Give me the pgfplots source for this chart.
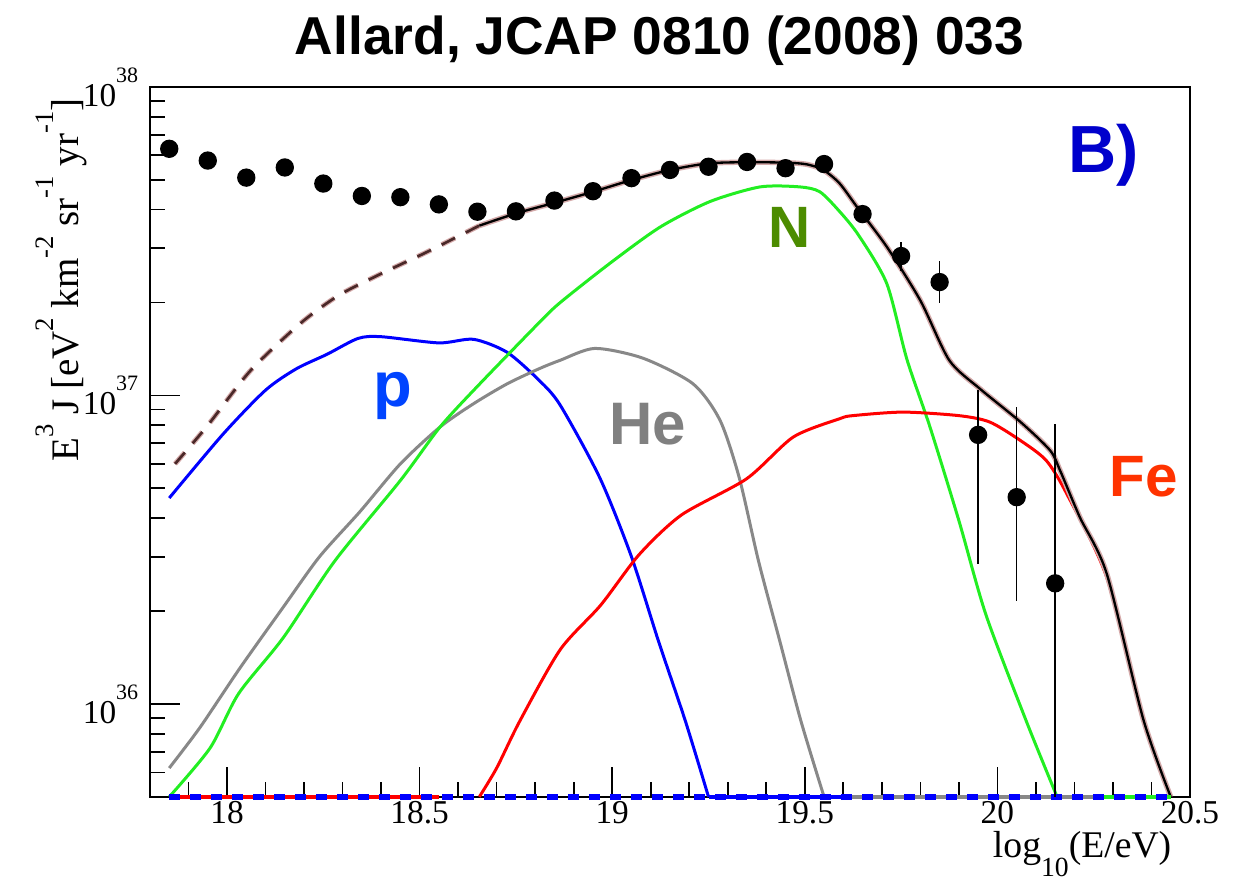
\documentclass[border=0pt]{standalone}
\usepackage{fontspec}
\setmainfont{Liberation Serif}
\newfontfamily\hb{Liberation Sans}
\usepackage{pgfplots}
\usepackage{pgfplotstable}
\pgfplotsset{compat=1.18}

\definecolor{pblue}{HTML}{0000FF}
\definecolor{ngreen}{HTML}{22EE22}
\definecolor{hegray}{HTML}{888888}
\definecolor{fered}{HTML}{FF0000}
\definecolor{halo}{HTML}{D4AAAA}
\definecolor{dashbrown}{HTML}{4A2828}
\definecolor{labB}{HTML}{0000CC}
\definecolor{labN}{HTML}{4C8C00}
\definecolor{labHe}{HTML}{808080}
\definecolor{labp}{HTML}{0044FF}
\definecolor{labFe}{HTML}{FF3300}

\newcommand{\tenp}[1]{10\raisebox{0.72em}{\fontsize{6.6}{7}\selectfont #1}}
\newcommand{\su}[1]{\raisebox{0.62em}{\fontsize{8}{8}\selectfont #1}}

% measured points with explicit errors
\pgfplotstableread{
x     y       ep      em
17.85 6.30e37 0       0
17.95 5.77e37 0       0
18.05 5.08e37 0       0
18.15 5.48e37 0       0
18.25 4.86e37 0       0
18.35 4.43e37 0       0
18.45 4.39e37 0       0
18.55 4.16e37 0       0
18.65 3.94e37 0       0
18.75 3.95e37 0       0
18.85 4.28e37 0       0
18.95 4.59e37 0       0
19.05 5.06e37 0       0
19.15 5.38e37 0       0
19.25 5.51e37 0       0
19.35 5.71e37 0       0
19.45 5.45e37 0       0
19.55 5.62e37 0       0
19.65 3.87e37 0.27e37 0.26e37
19.75 2.83e37 0.32e37 0.30e37
19.85 2.33e37 0.40e37 0.34e37
19.95 7.45e36 2.95e36 4.61e36
20.05 4.68e36 4.49e36 2.53e36
20.15 2.46e36 5.63e36 1.96e36
}\datapts

\pgfplotstableread{
x      y
17.865 6.0e36
17.95  8.0e36
18.06  1.2e37
18.19  1.71e37
18.29  2.11e37
18.40  2.48e37
18.52  2.92e37
18.655 3.55e37
}\totdash

\pgfplotstableread{
x      y
18.655 3.55e37
18.75  3.89e37
18.85  4.21e37
18.95  4.57e37
19.05  4.99e37
19.15  5.38e37
19.25  5.65e37
19.35  5.70e37
19.45  5.68e37
19.505 5.61e37
19.548 5.38e37
19.59  4.87e37
19.635 4.09e37
19.713 3.03e37
19.80  2.03e37
19.875 1.30e37
19.955 1.05e37
20.06  8.2e36
20.137 6.63e36
20.163 5.7e36
20.214 4.03e36
20.284 2.64e36
20.379 8.9e35
20.45  5.0e35
}\totsolid

\pgfplotstableread{
x      y
17.85  4.65e36
17.99  7.5e36
18.10  1.04e37
18.18  1.22e37
18.26  1.36e37
18.34  1.53e37
18.40  1.55e37
18.55  1.48e37
18.64  1.52e37
18.727 1.38e37
18.81  1.12e37
18.865 9.3e36
18.968 5.4e36
19.05  3.0e36
19.12  1.6e36
19.19  8.8e35
19.25  5.0e35
}\proton

\pgfplotstableread{
x      y
17.85  6.2e35
17.93  8.4e35
18.034 1.31e36
18.146 2.06e36
18.24  3.0e36
18.345 4.2e36
18.45  6.0e36
18.553 7.9e36
18.64  9.4e36
18.727 1.09e37
18.81  1.22e37
18.865 1.30e37
18.955 1.42e37
19.08  1.32e37
19.21  1.09e37
19.28  8.3e36
19.33  5.4e36
19.38  2.9e36
19.435 1.6e36
19.49  8.8e35
19.55  5.0e35
}\helium

\pgfplotstableread{
x      y
17.85  5.0e35
17.956 7.2e35
18.03  1.08e36
18.146 1.64e36
18.28  2.91e36
18.45  5.3e36
18.553 7.9e36
18.65  1.07e37
18.81  1.72e37
18.865 2.0e37
18.994 2.68e37
19.124 3.51e37
19.254 4.25e37
19.384 4.74e37
19.487 4.74e37
19.539 4.57e37
19.59  3.95e37
19.64  3.3e37
19.713 2.30e37
19.765 1.31e37
19.825 7.9e36
19.90  3.93e36
19.97  1.95e36
20.075 8.8e35
20.155 5.0e35
}\nitrogen

\pgfplotstableread{
x      y
18.655 5.0e35
18.70  6.2e35
18.76  8.8e35
18.865 1.5e36
18.97  2.09e36
19.07  3.05e36
19.18  4.1e36
19.349 5.37e36
19.47  7.33e36
19.59  8.4e36
19.625 8.6e36
19.755 8.83e36
19.90  8.6e36
19.98  8.2e36
20.06  7.14e36
20.127 6.15e36
20.18  4.8e36
20.284 2.57e36
20.379 8.9e35
20.45  5.0e35
}\iron

\begin{document}
\begin{tikzpicture}
\begin{axis}[
  name=ax,
  scale only axis,
  width=312pt, height=213pt,
  xmin=17.8, xmax=20.5,
  ymode=log, ymin=5e35, ymax=1e38,
  clip=false,
  axis line style={line width=0.5pt},
  tick align=inside,
  xtick pos=bottom, ytick pos=left,
  xtick={18,18.5,19,19.5,20,20.5},
  minor xtick={17.9,18.1,18.2,18.3,18.4,18.6,18.7,18.8,18.9,19.1,19.2,19.3,19.4,19.6,19.7,19.8,19.9,20.1,20.2,20.3,20.4},
  ytick={1e36,1e37,1e38},
  yticklabels={\tenp{36},\tenp{37},\tenp{38}},
  minor ytick={6e35,7e35,8e35,9e35,2e36,3e36,4e36,5e36,6e36,7e36,8e36,9e36,2e37,3e37,4e37,5e37,6e37,7e37,8e37,9e37},
  major tick length=9pt, minor tick length=4.5pt,
  tick style={line width=0.5pt, black},
  /pgf/number format/assume math mode=true,
  ticklabel style={font=\fontsize{10}{11}\selectfont},
  xticklabel style={yshift=2.3pt},
  every axis y label/.style={at={(rel axis cs:-0.0692,1)}, rotate=90, anchor=base east},
  every axis x label/.style={at={(rel axis cs:0.9933,-0.0859)}, anchor=base east},
  ylabel={\fontsize{11.7}{12}\selectfont E\su{3} J [eV\su{2} km\su{-2} sr\su{-1} yr\su{-1}]},
  xlabel={\fontsize{11.3}{12}\selectfont log\raisebox{-0.5em}{\fontsize{8.3}{9}\selectfont 10}(E/eV)},
  every axis plot/.append style={line join=round},
]
% components
\addplot[pblue, line width=0.9pt, smooth, tension=0.45] table[x=x,y=y] {\proton};
\addplot[hegray, line width=0.9pt, smooth, tension=0.45] table[x=x,y=y] {\helium};
\addplot[ngreen, line width=0.9pt, smooth, tension=0.45] table[x=x,y=y] {\nitrogen};
\addplot[fered, line width=0.9pt, smooth, tension=0.45] table[x=x,y=y] {\iron};
% total
\addplot[halo, line width=1.5pt, smooth, tension=0.45, dash pattern=on 4.5pt off 3.6pt] table[x=x,y=y] {\totdash};
\addplot[dashbrown, line width=0.8pt, smooth, tension=0.45, dash pattern=on 4.5pt off 3.6pt] table[x=x,y=y] {\totdash};
\addplot[halo, line width=1.6pt, smooth, tension=0.45] table[x=x,y=y] {\totsolid};
\addplot[black, line width=0.7pt, smooth, tension=0.45] table[x=x,y=y] {\totsolid};
% lines resting on the lower edge
\addplot[fered, line width=1.3pt] coordinates {(17.85,5e35) (18.55,5e35)};
\addplot[hegray, line width=1.3pt] coordinates {(19.55,5e35) (20.27,5e35)};
\addplot[pblue, line width=1.3pt] coordinates {(19.25,5e35) (19.6,5e35)};
\addplot[ngreen, line width=1.3pt] coordinates {(20.27,5e35) (20.45,5e35)};
\addplot[pblue, line width=1.6pt, dash pattern=on 3.3pt off 3pt] coordinates {(17.85,5e35) (20.45,5e35)};
% data
\addplot[black, only marks, mark=*, mark size=2.55pt,
  error bars/.cd, y dir=both, y explicit,
  error bar style={line width=0.5pt, black}, error mark=none]
  table[x=x, y=y, y error plus=ep, y error minus=em] {\datapts};
% labels
\node[anchor=base west, font=\hb\bfseries\fontsize{20}{20}\selectfont, text=labB, inner sep=0pt] at (rel axis cs:0.8827,0.8789) {B)};
\node[anchor=base west, font=\hb\bfseries\fontsize{17.5}{18}\selectfont, text=labN, inner sep=0pt] at (rel axis cs:0.5942,0.7732) {N};
\node[anchor=base west, font=\hb\bfseries\fontsize{18}{18}\selectfont, text=labHe, inner sep=0pt] at (rel axis cs:0.4413,0.4958) {He};
\node[anchor=base west, font=\hb\bfseries\fontsize{19}{19}\selectfont, text=labp, inner sep=0pt] at (rel axis cs:0.2144,0.5493) {p};
\node[anchor=base west, font=\hb\bfseries\fontsize{17.5}{18}\selectfont, text=labFe, inner sep=0pt] at (rel axis cs:0.9221,0.4225) {Fe};
\node[anchor=base, font=\hb\bfseries\fontsize{16}{16}\selectfont, inner sep=0pt] at (rel axis cs:0.490,1.045) {Allard, JCAP 0810 (2008) 033};
\end{axis}
\pgfresetboundingbox
\path ([shift={(-45pt,-26.1pt)}]ax.south west) rectangle ([shift={(15.6pt,26.1pt)}]ax.north east);
\end{tikzpicture}
\end{document}
